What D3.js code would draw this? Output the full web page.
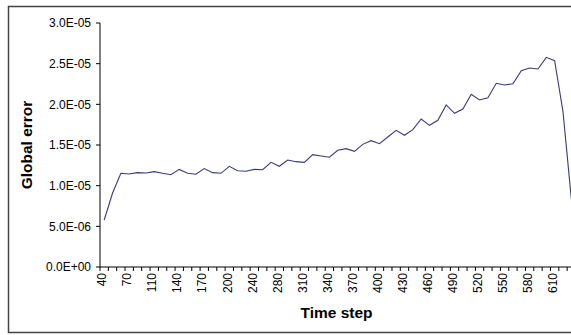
<!DOCTYPE html>
<html><head><meta charset="utf-8">
<script src="https://cdn.jsdelivr.net/npm/d3@7"></script>
<style>body{margin:0;background:#fff}svg{display:block}text{font-family:"Liberation Sans",Arial,sans-serif}</style>
</head><body>
<script>
const timeSteps = [40,50,60,70,80,100,110,120,130,140,150,160,170,180,190,200,220,230,240,250,270,280,
  290,300,310,320,330,340,350,360,370,380,390,400,410,420,430,440,450,460,470,480,490,500,510,520,530,540,
  550,560,570,580,590,600,610,620,630];
const globalError = [0.578,0.906,1.152,1.143,1.160,1.156,1.172,1.152,1.135,1.200,1.152,1.140,1.210,1.160,1.152,
  1.238,1.184,1.177,1.200,1.196,1.287,1.238,1.316,1.295,1.287,1.381,1.365,1.349,1.435,1.455,1.422,1.508,1.553,
  1.516,1.598,1.680,1.619,1.688,1.820,1.742,1.804,1.992,1.890,1.943,2.123,2.053,2.082,2.259,2.238,2.254,2.414,
  2.447,2.434,2.578,2.537,1.910,0.840].map(v => v * 1e-5);
const xTickLabels = [40,70,110,140,170,200,240,280,310,340,370,400,430,460,490,520,550,580,610];
const yTicks = [0,5e-6,1e-5,1.5e-5,2e-5,2.5e-5,3e-5];
const yTickLabels = ["0.0E+00","5.0E-06","1.0E-05","1.5E-05","2.0E-05","2.5E-05","3.0E-05"];

const W = 571, H = 335;
const svg = d3.select("body").append("svg").attr("width", W).attr("height", H);

svg.append("rect").attr("x", 8.5).attr("y", 6.5).attr("width", 700).attr("height", 326)
  .attr("fill", "#fff").attr("stroke", "#444").attr("stroke-width", 1.5);

const step = 8.342;
const x = d3.scaleBand().domain(timeSteps).range([100, 100 + timeSteps.length * step]).padding(0);
const y = d3.scaleLinear().domain([0, 3e-5]).range([267, 23]);

// y axis
const gy = svg.append("g").attr("transform", "translate(100,0)");
gy.append("line").attr("x1", 0).attr("x2", 0).attr("y1", y(3e-5)).attr("y2", y(0)).attr("stroke", "#000");
yTicks.forEach((t, i) => {
  gy.append("line").attr("x1", -4).attr("x2", 0).attr("y1", y(t)).attr("y2", y(t)).attr("stroke", "#000");
  gy.append("text").attr("x", -9).attr("y", y(t)).attr("dy", "0.35em").attr("text-anchor", "end")
    .attr("font-size", 12).attr("fill", "#000").text(yTickLabels[i]);
});

// x axis
const gx = svg.append("g");
gx.append("line").attr("x1", 100).attr("x2", W + 20).attr("y1", 267).attr("y2", 267).attr("stroke", "#000");
for (let k = 0; k <= timeSteps.length; k++) {
  const xx = 100 + k * x.bandwidth();
  gx.append("line").attr("x1", xx).attr("x2", xx).attr("y1", 267).attr("y2", 271).attr("stroke", "#000");
}
xTickLabels.forEach(t => {
  const cx = x(t) + x.bandwidth() / 2 - 2;
  gx.append("text").attr("transform", `translate(${cx},273) rotate(-90)`).attr("dy", "0.35em")
    .attr("text-anchor", "end").attr("font-size", 12).attr("fill", "#000").text(t);
});

// line
const line = d3.line().x((d, i) => x(timeSteps[i]) + x.bandwidth() / 2).y(d => y(d));
svg.append("path").datum(globalError).attr("d", line).attr("fill", "none")
  .attr("stroke", "#3a3a7e").attr("stroke-width", 1.1);

// titles
svg.append("text").attr("x", 336.5).attr("y", 318).attr("text-anchor", "middle")
  .attr("font-size", 15.5).attr("font-weight", "bold").text("Time step");
svg.append("text").attr("transform", "translate(32,145) rotate(-90)").attr("text-anchor", "middle")
  .attr("font-size", 15.5).attr("font-weight", "bold").text("Global error");
</script>
</body></html>
